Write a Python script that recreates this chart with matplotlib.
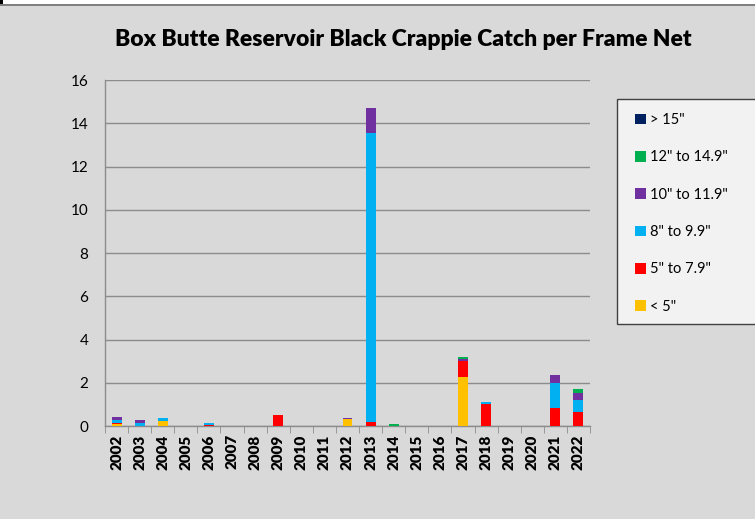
import matplotlib
matplotlib.use("Agg")
import matplotlib.pyplot as plt
from matplotlib.patches import Rectangle, Patch
import numpy as np

plt.rcParams['font.family'] = ['Lato', 'DejaVu Sans']

years = ['2002', '2003', '2004', '2005', '2006', '2007', '2008', '2009', '2010', '2011',
         '2012', '2013', '2014', '2015', '2016', '2017', '2018', '2019', '2020', '2021', '2022']

# catch per frame net by length class (bottom to top of each stack)
lt5      = [0.08, 0, 0.23, 0, 0,    0, 0, 0,   0, 0, 0.33, 0,     0,    0, 0, 2.25, 0,    0, 0, 0,    0]
in5_7    = [0.08, 0, 0,    0, 0.06, 0, 0, 0.5, 0, 0, 0,    0.18,  0,    0, 0, 0.75, 1.0,  0, 0, 0.83, 0.67]
in8_9    = [0.10, 0.12, 0.12, 0, 0.09, 0, 0, 0, 0, 0, 0,   13.38, 0,    0, 0, 0,    0.13, 0, 0, 1.17, 0.53]
in10_11  = [0.14, 0.14, 0, 0, 0,    0, 0, 0,   0, 0, 0.04, 1.16,  0,    0, 0, 0.08, 0,    0, 0, 0.35, 0.31]
in12_14  = [0,    0,    0, 0, 0,    0, 0, 0,   0, 0, 0,    0,     0.08, 0, 0, 0.10, 0,    0, 0, 0,    0.20]
gt15     = [0] * 21

series = [
    ('< 5"', lt5, '#ffc000'),
    ('5" to 7.9"', in5_7, '#ff0000'),
    ('8" to 9.9"', in8_9, '#00b0f0'),
    ('10" to 11.9"', in10_11, '#7030a0'),
    ('12" to 14.9"', in12_14, '#00b050'),
    ('> 15"', gt15, '#002060'),
]

bg = '#d9d9d9'
W, H = 755, 519
fig = plt.figure(figsize=(W / 100, H / 100), dpi=100, facecolor=bg)

# white strip and rule along the top edge
fig.patches.append(Rectangle((0, 1 - 4 / H), 1, 4 / H, transform=fig.transFigure,
                             facecolor='white', edgecolor='none', zorder=0))
fig.patches.append(Rectangle((0, 1 - 5.5 / H), 1, 1.5 / H, transform=fig.transFigure,
                             facecolor='#808080', edgecolor='none', zorder=0))
fig.patches.append(Rectangle((0, 1 - 4 / H), 2.5 / W, 4 / H, transform=fig.transFigure,
                             facecolor='black', edgecolor='none', zorder=1))

ax = fig.add_axes([105 / W, 1 - 426 / H, 485 / W, 346 / H])
ax.set_facecolor(bg)

x = np.arange(len(years))
bottom = np.zeros(len(years))
for name, vals, col in series:
    v = np.array(vals, dtype=float)
    ax.bar(x, v, width=0.43, bottom=bottom, color=col, edgecolor='none', zorder=3)
    bottom += v

ax.set_xlim(-0.5, len(years) - 0.5)
ax.set_ylim(0, 16)
ax.set_yticks(np.arange(0, 17, 2))
ax.yaxis.grid(True, color='#8c8c8c', linewidth=1.0, zorder=0)
ax.set_axisbelow(True)

for s in ['top', 'right']:
    ax.spines[s].set_visible(False)
ax.spines['left'].set_color('#8c8c8c')
ax.spines['bottom'].set_color('#8c8c8c')
ax.spines['left'].set_linewidth(1.0)
ax.spines['bottom'].set_linewidth(1.0)

ax.tick_params(axis='y', length=0, labelsize=11, pad=12)
ax.set_xticks(x)
ax.set_xticklabels(years, rotation=90, fontsize=11, fontweight='heavy')
ax.tick_params(axis='x', length=0, pad=6)
ax.set_xticks(np.arange(-0.5, len(years), 1), minor=True)
ax.tick_params(axis='x', which='minor', length=5, color='#8c8c8c', direction='out')

fig.text(403 / W, 1 - 40 / H, 'Box Butte Reservoir Black Crappie Catch per Frame Net',
         ha='center', va='center', fontsize=16.5, fontweight='heavy')

# legend box runs off the right edge of the figure
fig.patches.append(Rectangle((617 / W, 1 - 324 / H), 150 / W, 225 / H, transform=fig.transFigure,
                             facecolor='#f2f2f2', edgecolor='#404040', linewidth=1.0, zorder=2))

handles = [Patch(facecolor=col, edgecolor='none', label=name) for name, vals, col in reversed(series)]
leg = fig.legend(handles=handles, loc='upper left', bbox_to_anchor=(635 / W, 1 - 113 / H),
                 frameon=False, fontsize=10.5, labelspacing=1.6,
                 handlelength=0.75, handleheight=0.75, handletextpad=0.3,
                 borderpad=0, borderaxespad=0)
leg.set_zorder(3)

fig.savefig('out.png', dpi=100, facecolor=bg)
